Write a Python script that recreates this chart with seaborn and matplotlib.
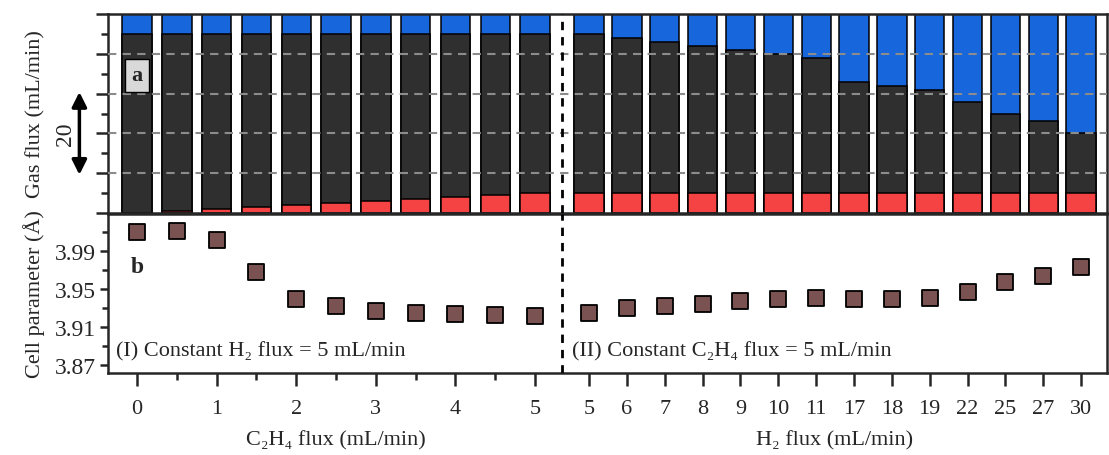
import numpy as np
import pandas as pd
import matplotlib
matplotlib.use("Agg")
import matplotlib.pyplot as plt
from matplotlib.ticker import MultipleLocator, FixedLocator
import seaborn as sns

# ---- data ----
# group I : constant H2 = 5 mL/min, C2H4 varied
c2h4_flux_I = [0, 0.5, 1, 1.5, 2, 2.5, 3, 3.5, 4, 4.5, 5]
h2_flux_I = [5, 5, 5, 5, 5, 5, 5, 5, 5, 5, 5]
balance_I = [45, 44.5, 44, 43.5, 43, 42.5, 42, 41.5, 41, 40.5, 40]
cell_I = [4.010, 4.011, 4.001, 3.968, 3.939, 3.932, 3.927, 3.925, 3.924, 3.923, 3.922]

# group II : constant C2H4 = 5 mL/min, H2 varied
h2_flux_II = [5, 6, 7, 8, 9, 10, 11, 17, 18, 19, 22, 25, 27, 30]
c2h4_flux_II = [5, 5, 5, 5, 5, 5, 5, 5, 5, 5, 5, 5, 5, 5]
balance_II = [40, 39, 38, 37, 36, 35, 34, 28, 27, 26, 23, 20, 18, 15]
cell_II = [3.925, 3.930, 3.932, 3.934, 3.937, 3.940, 3.941, 3.939,
           3.940, 3.941, 3.947, 3.957, 3.964, 3.973]

tick_labels_I = ["0", "", "1", "", "2", "", "3", "", "4", "", "5"]
tick_labels_II = [str(v) for v in h2_flux_II]

# ---- layout positions (one common axis for both groups) ----
step_II = 0.951
pos_I = np.arange(len(c2h4_flux_I)) * 1.0
pos_II = 11.357 + np.arange(len(h2_flux_II)) * step_II
sep_x = 10.67

red = np.r_[c2h4_flux_I, c2h4_flux_II]
dark = np.r_[balance_I, balance_II]
blue = np.r_[h2_flux_I, h2_flux_II]
df = pd.DataFrame({
    "pos": np.r_[pos_I, pos_II],
    "red": red,
    "red_dark": red + dark,
    "total": red + dark + blue,
    "cell": np.r_[cell_I, cell_II],
})

sns.set_style("ticks")
plt.rcParams["font.family"] = ["Liberation Serif", "DejaVu Serif"]
plt.rcParams["axes.linewidth"] = 1.8

fig = plt.figure(figsize=(11.09, 4.56), dpi=100)
ax1 = fig.add_axes([0.0977, 0.5307, 0.9005, 0.4364])
ax2 = fig.add_axes([0.0977, 0.1798, 0.9005, 0.3498])

xmin, xmax = -0.721, 24.37

# === panel a: stacked bars ===
bw = 0.775
sns.barplot(data=df, x="pos", y="total", native_scale=True, width=bw,
            color="#1766DC", saturation=1, edgecolor="black", linewidth=1.1,
            errorbar=None, ax=ax1)
sns.barplot(data=df, x="pos", y="red_dark", native_scale=True, width=bw,
            color="#2F2F2F", saturation=1, edgecolor="black", linewidth=1.1,
            errorbar=None, ax=ax1)
sns.barplot(data=df, x="pos", y="red", native_scale=True, width=bw,
            color="#F54343", saturation=1, edgecolor="black", linewidth=1.1,
            errorbar=None, ax=ax1)
for yv in [10, 20, 30, 40]:
    ax1.axhline(yv, color="#8C8C8C", lw=1.5, ls=(0, (4, 3)), zorder=5)

ax1.set_xlim(xmin, xmax)
ax1.set_ylim(0, 50)
ax1.yaxis.set_major_locator(MultipleLocator(10))
ax1.yaxis.set_minor_locator(MultipleLocator(5))
ax1.tick_params(axis="y", which="major", length=9, width=1.8, labelleft=False)
ax1.tick_params(axis="y", which="minor", length=5, width=1.8)
ax1.tick_params(axis="x", bottom=False, labelbottom=False)
ax1.set_xlabel("")
ax1.set_ylabel("Gas flux (mL/min)", fontsize=16)
ax1.axvline(sep_x, color="black", lw=2, ls=(0, (3, 2.5)), zorder=6)

# "a" label box
ax1.text(0.0, 34.6, "a", fontsize=16, fontweight="bold", ha="center", va="center",
         zorder=7, bbox=dict(boxstyle="square,pad=0.28", fc="#D9D9D9", ec="black", lw=1))

# 20 unit scale arrow
ax1.annotate("", xy=(-0.029, 9.6), xytext=(-0.029, 30.4),
             xycoords=("axes fraction", "data"),
             arrowprops=dict(arrowstyle="<|-|>", color="black", lw=2.5,
                             mutation_scale=22, shrinkA=0, shrinkB=0),
             annotation_clip=False)
ax1.text(-0.043, 20, "20", rotation=90, fontsize=17, ha="center", va="center",
         transform=ax1.get_yaxis_transform())

# === panel b: cell parameter ===
sns.scatterplot(data=df, x="pos", y="cell", marker="s", s=140, color="#7B5252",
                edgecolor="black", linewidth=1.3, zorder=4, ax=ax2)
ax2.axvline(sep_x, color="black", lw=2, ls=(0, (3, 2.5)), zorder=6)
ax2.set_xlim(xmin, xmax)
ax2.set_ylim(3.862, 4.029)
ax2.yaxis.set_major_locator(FixedLocator([3.87, 3.91, 3.95, 3.99]))
ax2.yaxis.set_minor_locator(FixedLocator([3.89, 3.93, 3.97, 4.01]))
ax2.set_yticklabels(["3.87", "3.91", "3.95", "3.99"])

major_pos = list(pos_I[::2]) + list(pos_II)
major_lab = tick_labels_I[::2] + tick_labels_II
ax2.xaxis.set_major_locator(FixedLocator(major_pos))
ax2.xaxis.set_minor_locator(FixedLocator(list(pos_I[1::2])))
ax2.set_xticklabels(major_lab)
ax2.tick_params(axis="x", which="major", length=9, width=1.8, labelsize=16, pad=10)
ax2.tick_params(axis="x", which="minor", length=5, width=1.8)
ax2.tick_params(axis="y", which="major", length=6, width=1.8, labelsize=17, pad=3)
ax2.tick_params(axis="y", which="minor", length=4, width=1.8)
ax2.set_xlabel("")
ax2.set_ylabel("Cell parameter (Å)", fontsize=16)
ax2.legend_ = None

ax2.text(0.0, 3.9735, "b", fontsize=17, fontweight="bold", ha="center", va="center")
ax2.text(-0.52, 3.8805, "(I) Constant H₂ flux = 5 mL/min", fontsize=16,
         ha="left", va="baseline")
ax2.text(10.93, 3.8805, "(II) Constant C₂H₄ flux = 5 mL/min", fontsize=16,
         ha="left", va="baseline")

fig.text((137 + 535) / 2 / 1109, 1 - 441 / 456, "C₂H₄ flux (mL/min)",
         fontsize=16, ha="center", va="center")
fig.text((589 + 1081) / 2 / 1109, 1 - 441 / 456, "H₂ flux (mL/min)",
         fontsize=16, ha="center", va="center")

# align the two y labels
ax1.yaxis.set_label_coords(-0.063, 0.5)
ax2.yaxis.set_label_coords(-0.063, 0.5)

fig.savefig("out.png", dpi=100)
